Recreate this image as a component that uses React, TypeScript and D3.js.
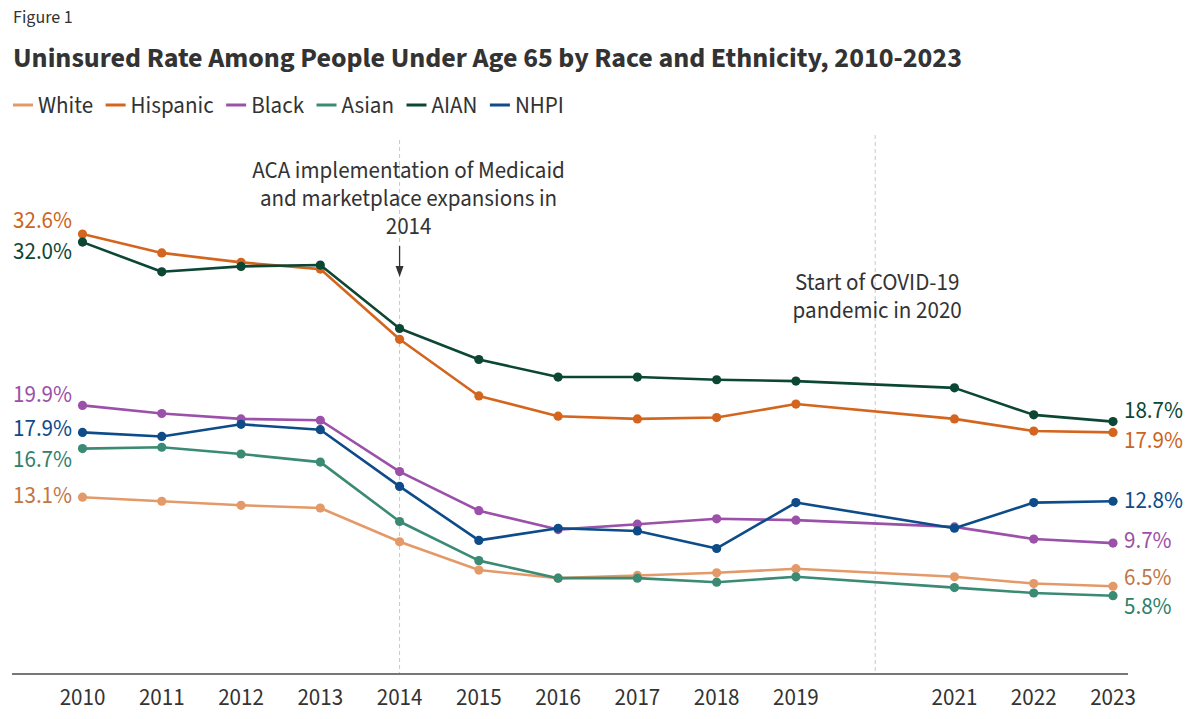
import React from "react";
import * as d3 from "d3";

const years = [2010, 2011, 2012, 2013, 2014, 2015, 2016, 2017, 2018, 2019, 2021, 2022, 2023];
const tickYears = [2010, 2011, 2012, 2013, 2014, 2015, 2016, 2017, 2018, 2019, 2021, 2022, 2023];

const seriesNames = ["White", "Hispanic", "Black", "Asian", "AIAN", "NHPI"];
const white = [13.1, 12.8, 12.5, 12.3, 9.8, 7.7, 7.1, 7.3, 7.5, 7.8, 7.2, 6.7, 6.5];
const hispanic = [32.6, 31.2, 30.5, 30.0, 24.8, 20.6, 19.1, 18.9, 19.0, 20.0, 18.9, 18.0, 17.9];
const black = [19.9, 19.3, 18.9, 18.8, 15.0, 12.1, 10.7, 11.1, 11.5, 11.4, 10.9, 10.0, 9.7];
const asian = [16.7, 16.8, 16.3, 15.7, 11.3, 8.4, 7.1, 7.1, 6.8, 7.2, 6.4, 6.0, 5.8];
const aian = [32.0, 29.8, 30.2, 30.3, 25.6, 23.3, 22.0, 22.0, 21.8, 21.7, 21.2, 19.2, 18.7];
const nhpi = [17.9, 17.6, 18.5, 18.1, 13.9, 9.9, 10.8, 10.6, 9.3, 12.7, 10.8, 12.7, 12.8];

const title = "Uninsured Rate Among People Under Age 65 by Race and Ethnicity, 2010-2023";
const figureLabel = "Figure 1";
const acaNote = ["ACA implementation of Medicaid", "and marketplace expansions in", "2014"];
const covidNote = ["Start of COVID-19", "pandemic in 2020"];

const seriesValues = [white, hispanic, black, asian, aian, nhpi];
const colors = ["#e39a68", "#d4651f", "#9b50aa", "#3a8a74", "#0c4634", "#0d4b89"];
const labelColors = ["#c27646", "#cc6420", "#9b50aa", "#2f806a", "#0c4634", "#0d4b89"];
// label vertical nudges (left, right) to avoid overlaps
const leftDy = [-2, -14, -11, 10, 9, -4];
const rightDy = [-9, 8, -3, 10, -12, -1];

const FONT = "'Source Sans Pro', 'Source Sans 3', Lato, 'Noto Sans', sans-serif";

export default function App() {
  const W = 1200, H = 719;
  const x = d3.scaleLinear().domain([2010, 2023]).range([82.5, 1113]);
  const y = d3.scaleLinear().domain([0, 32.6]).range([674, 234]);
  const line = d3.line<number>().x((_, i) => x(years[i])).y((d) => y(d));

  const ctx = typeof document !== "undefined" ? document.createElement("canvas").getContext("2d") : null;
  const measure = (t: string, size: number) => {
    if (!ctx) return t.length * size * 0.5;
    ctx.font = `${size}px ${FONT}`;
    return ctx.measureText(t).width;
  };

  const fs = 23;
  let lx = 13;
  const legendItems = seriesNames.map((n, i) => {
    const item = { n, i, x: lx };
    lx += 20 + 5 + measure(n, fs) + 12.5;
    return item;
  });

  const drawOrder = [0, 3, 2, 5, 1, 4];

  return (
    <svg width={W} height={H} style={{ display: "block", position: "absolute", left: 0, top: 0, background: "#fff" }} fontFamily={FONT}>
      <rect width={W} height={H} fill="#fff" />
      <text x={13} y={23} fontSize={18} fill="#333">{figureLabel}</text>
      <text x={13} y={67} fontSize={28} fontWeight={700} fill="#333">{title}</text>
      {legendItems.map((it) => (
        <g key={it.n}>
          <line x1={it.x} x2={it.x + 20} y1={105} y2={105} stroke={colors[it.i]} strokeWidth={3} />
          <text x={it.x + 25} y={105} dy="0.35em" fontSize={fs} fill="#333">{it.n}</text>
        </g>
      ))}
      {/* reference lines */}
      <line x1={x(2014)} x2={x(2014)} y1={140} y2={674} stroke="#c8c8c8" strokeDasharray="4,3" strokeWidth={1} />
      <line x1={x(2020)} x2={x(2020)} y1={135} y2={674} stroke="#c8c8c8" strokeDasharray="4,3" strokeWidth={1} />
      {/* axis */}
      <line x1={12} x2={1128} y1={674} y2={674} stroke="#777" strokeWidth={2} />
      {tickYears.map((t) => (
        <text key={t} x={x(t)} y={697} dy="0.35em" textAnchor="middle" fontSize={fs} fill="#333">{t}</text>
      ))}
      {/* annotations */}
      {acaNote.map((l, i) => (
        <text key={l} x={x(2014) + 9} y={170 + i * 28} dy="0.35em" textAnchor="middle" fontSize={fs} fill="#333">{l}</text>
      ))}
      <line x1={x(2014)} x2={x(2014)} y1={246} y2={268} stroke="#333" strokeWidth={1.3} />
      <path d={`M${x(2014) - 4},${266} L${x(2014) + 4},${266} L${x(2014)},${277} Z`} fill="#333" />
      {covidNote.map((l, i) => (
        <text key={l} x={x(2020) + 2} y={282 + i * 28} dy="0.35em" textAnchor="middle" fontSize={fs} fill="#333">{l}</text>
      ))}
      {/* series */}
      {drawOrder.map((si) => (
        <g key={seriesNames[si]}>
          <path d={line(seriesValues[si]) || ""} fill="none" stroke={colors[si]} strokeWidth={2.6} strokeLinejoin="round" />
          {seriesValues[si].map((v, i) => (
            <circle key={i} cx={x(years[i])} cy={y(v)} r={4.6} fill={colors[si]} />
          ))}
        </g>
      ))}
      {seriesValues.map((vals, si) => (
        <g key={"lab" + si}>
          <text x={72} y={y(vals[0]) + leftDy[si]} dy="0.35em" textAnchor="end" fontSize={fs} fill={labelColors[si]}>
            {vals[0].toFixed(1)}%
          </text>
          <text x={1124} y={y(vals[vals.length - 1]) + rightDy[si]} dy="0.35em" textAnchor="start" fontSize={fs} fill={labelColors[si]}>
            {vals[vals.length - 1].toFixed(1)}%
          </text>
        </g>
      ))}
    </svg>
  );
}
